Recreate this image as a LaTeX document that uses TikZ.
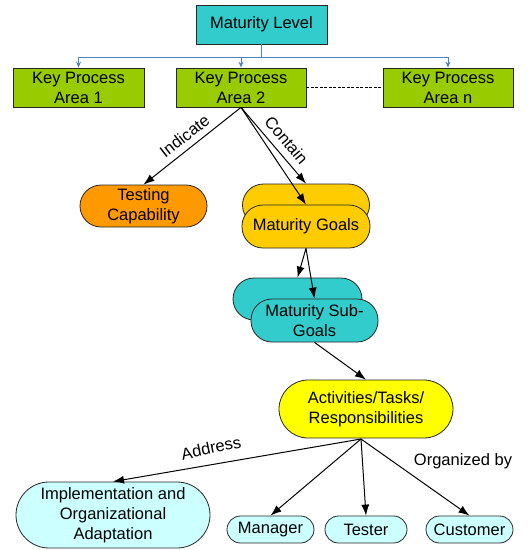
\documentclass[tikz,border=0pt]{standalone}
\usepackage{fontspec}
\setmainfont{Liberation Sans}
\usetikzlibrary{arrows.meta}
\definecolor{cteal}{HTML}{33CCCC}
\definecolor{cgreen}{HTML}{99CC00}
\definecolor{corange}{HTML}{FF9900}
\definecolor{cgold}{HTML}{FFCC00}
\definecolor{cyellow}{HTML}{FFFF00}
\definecolor{clight}{HTML}{CCFFFF}
\definecolor{cblue}{HTML}{4F81BD}
\begin{document}
\begin{tikzpicture}[x=1pt,y=-1pt,
  box/.style={draw=black!85, line width=0.8pt, inner sep=0pt, align=center, font=\fontsize{16.5}{20}\selectfont},
  pill/.style={box, rounded corners=#1},
  arr/.style={-{Latex[length=11pt,width=8pt]}, line width=1pt},
  bl/.style={draw=cblue, line width=1pt},
  blarr/.style={bl, -{Stealth[length=6pt,width=5pt]}},
  lbl/.style={font=\fontsize{16.5}{20}\selectfont, inner sep=0pt}
]
\useasboundingbox (0,0) rectangle (529,550);
% top level
\node[box, fill=cteal, minimum width=131pt, minimum height=39pt] (ml) at (261.5,24.5) {Maturity Level};
\node[box, fill=cgreen, minimum width=131pt, minimum height=39pt] (k1) at (78.5,87.5) {Key Process\\Area 1};
\node[box, fill=cgreen, minimum width=130pt, minimum height=39pt] (k2) at (241,87.5) {Key Process\\Area 2};
\node[box, fill=cgreen, minimum width=130pt, minimum height=39pt] (kn) at (448,87.5) {Key Process\\Area n};
% middle
\node[pill=21pt, fill=corange, minimum width=127pt, minimum height=42pt] (tc) at (143.5,206) {Testing\\Capability};
\node[pill=21pt, fill=cgold, minimum width=127pt, minimum height=42pt] (mgb) at (306,205) {};
\node[pill=21pt, fill=cgold, minimum width=128pt, minimum height=43pt] (mgf) at (306,226.5) {Maturity Goals};
\node[pill=21pt, fill=cteal, minimum width=129pt, minimum height=42pt] (msb) at (297.5,299) {};
\node[pill=21pt, fill=cteal, minimum width=127pt, minimum height=43pt] (msf) at (314.5,320.5) {Maturity Sub-\\Goals};
\node[pill=29pt, fill=cyellow, minimum width=174pt, minimum height=58pt] (at) at (366,409) {Activities/Tasks/\\Responsibilities};
% bottom
\node[pill=33pt, fill=clight, minimum width=194pt, minimum height=66pt] (impl) at (113,515) {Implementation and\\Organizational\\Adaptation};
\node[pill=13.5pt, fill=clight, minimum width=87pt, minimum height=27pt] (mgr) at (270.5,529.5) {Manager};
\node[pill=13.5pt, fill=clight, minimum width=82pt, minimum height=27pt] (tst) at (366,529.5) {Tester};
\node[pill=13.5pt, fill=clight, minimum width=87pt, minimum height=27pt] (cst) at (469.5,529.5) {Customer};
% blue tree
\draw[bl] (ml.south) -- ++(0,13) coordinate (hub);
\draw[blarr] (hub) -| (k1.north);
\draw[blarr] (hub) -| (k2.north);
\draw[blarr] (hub) -| (kn.north);
\draw[line width=0.8pt, dash pattern=on 3pt off 1.5pt] (k2.east) -- (kn.west);
% arrows
\draw[arr] (k2.south) -- (tc.north);
\draw[arr] (k2.south) -- (mgb.north);
\draw[arr] (k2.south) -- (mgf.north);
\draw[arr] (mgf.south) -- (msb.north);
\draw[arr] (mgf.south) -- (msf.north);
\draw[arr] (msf.south) -- (at.north);
\coordinate (ats) at (361,439);
\draw[arr] (ats) -- (impl.north);
\draw[arr] (ats) -- (mgr.north);
\draw[arr] (ats) -- (tst.north);
\draw[arr] (ats) -- (cst.north);
% labels
\node[lbl, rotate=38] (lind) at (184.5,136) {Indicate};
\node[lbl, rotate=-50] (lcon) at (286.5,140) {Contain};
\node[lbl, rotate=12] (ladd) at (211,448) {Address};
\node[lbl] (lorg) at (463,461) {Organized by};
\end{tikzpicture}
\end{document}
